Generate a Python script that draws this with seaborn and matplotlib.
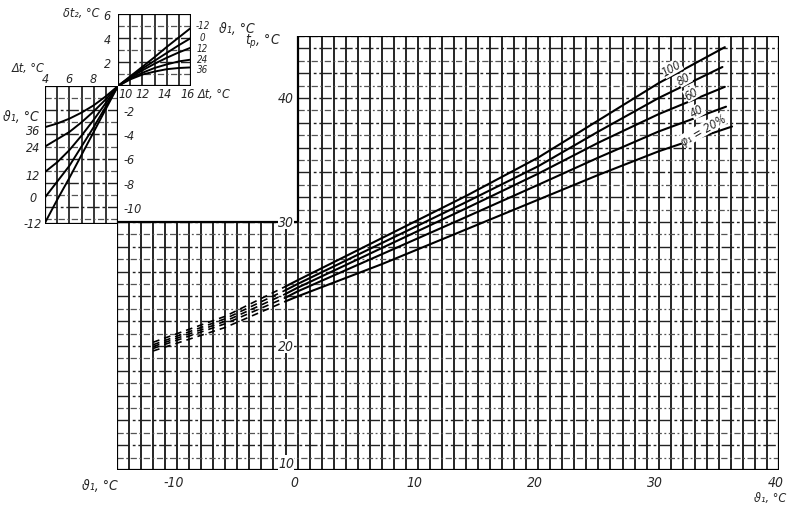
import matplotlib
matplotlib.use("Agg")
import matplotlib.pyplot as plt
import pandas as pd
import seaborn as sns

# ---------------------------------------------------------------------------
# Main chart: t_p against theta_1 for several relative humidities phi_1
# ---------------------------------------------------------------------------
PHI_LEVELS = [100, 80, 60, 40, 20]

THETA_SOLID_100 = [-1, 0, 7, 14, 20, 25, 30, 35.5]
TP_SOLID_100 = [24.8, 25.3, 28.7, 32.1, 35.2, 38.2, 41.2, 44.1]
THETA_SOLID_80 = [-1, 0, 7, 14, 20, 25, 30, 35.3]
TP_SOLID_80 = [24.5, 25.0, 28.3, 31.6, 34.5, 37.3, 40.0, 42.5]
THETA_SOLID_60 = [-1, 0, 7, 14, 20, 25, 30, 35.5]
TP_SOLID_60 = [24.2, 24.7, 27.9, 31.1, 33.9, 36.4, 38.7, 40.9]
THETA_SOLID_40 = [-1, 0, 7, 14, 20, 25, 30, 35.6]
TP_SOLID_40 = [23.9, 24.4, 27.4, 30.4, 33.0, 35.2, 37.3, 39.3]
THETA_SOLID_20 = [-1, 0, 7, 14, 20, 25, 30, 36.1]
TP_SOLID_20 = [23.6, 24.0, 26.6, 29.4, 31.8, 33.8, 35.7, 37.7]

# extrapolated (dashed) part below 0 degC
THETA_DASH = [-12, -6, -1]
TP_DASH_100 = [20.3, 22.4, 24.8]
TP_DASH_80 = [20.1, 22.2, 24.5]
TP_DASH_60 = [19.95, 22.0, 24.2]
TP_DASH_40 = [19.8, 21.8, 23.9]
TP_DASH_20 = [19.6, 21.5, 23.6]

MAIN_XTICKS = [-10, 0, 10, 20, 30, 40]
MAIN_YTICKS = [10, 20, 30, 40]

# ---------------------------------------------------------------------------
# Upper-right inset: delta t2 against delta t (10..16) for theta_1 levels
# ---------------------------------------------------------------------------
THETA1_LEVELS = [-12, 0, 12, 24, 36]
DT_UR = [10, 11, 12, 13, 14, 15, 16]
DT2_UR_M12 = [0, 0.8, 1.6, 2.4, 3.25, 4.05, 4.85]
DT2_UR_0 = [0, 0.75, 1.45, 2.1, 2.75, 3.4, 4.0]
DT2_UR_12 = [0, 0.7, 1.3, 1.85, 2.35, 2.8, 3.2]
DT2_UR_24 = [0, 0.6, 1.1, 1.5, 1.8, 2.05, 2.2]
DT2_UR_36 = [0, 0.55, 0.95, 1.2, 1.4, 1.5, 1.55]

# ---------------------------------------------------------------------------
# Lower-left inset: delta t2 against delta t (4..10) for theta_1 levels
# ---------------------------------------------------------------------------
DT_LL = [4, 5, 6, 7, 8, 9, 10]
DT2_LL_M12 = [-11.3, -9.4, -7.6, -5.7, -3.8, -1.9, 0]
DT2_LL_0 = [-9.2, -7.9, -6.6, -5.0, -3.4, -1.7, 0]
DT2_LL_12 = [-7.1, -6.3, -5.3, -4.1, -2.8, -1.4, 0]
DT2_LL_24 = [-5.0, -4.4, -3.8, -3.0, -2.1, -1.1, 0]
DT2_LL_36 = [-3.4, -3.1, -2.7, -2.2, -1.6, -0.85, 0]


def _long(xs_list, ys_list, keys):
    rows = []
    for key, xs, ys in zip(keys, xs_list, ys_list):
        for x, y in zip(xs, ys):
            rows.append({"x": x, "y": y, "curve": key})
    return pd.DataFrame(rows)


sns.set_theme(style="white")
plt.rcParams["font.family"] = ["DejaVu Sans"]
plt.rcParams["font.stretch"] = "condensed"
plt.rcParams["font.style"] = "italic"
plt.rcParams["mathtext.default"] = "it"

W, H = 791, 506
fig = plt.figure(figsize=(W / 100, H / 100), dpi=100)
fig.patch.set_facecolor("white")


def px_axes(x0, y0, x1, y1):
    """Axes placed by pixel box (top-left origin)."""
    ax = fig.add_axes([x0 / W, (H - y1) / H, (x1 - x0) / W, (y1 - y0) / H])
    ax.set_axis_off()
    return ax


def hline_style(v):
    if v % 2 == 0:
        return dict(color="#222222", lw=1.0, ls=(0, (9, 2, 2, 2)))
    return dict(color="#555555", lw=0.9, ls=(0, (5, 2, 1.5, 2)))


FS = 10

# ---------------------------------------------------------------------------
# Main chart (L-shaped grid)
# ---------------------------------------------------------------------------
ax = px_axes(117, 37, 779, 471)
ax.set_xlim(-15, 40)
ax.set_ylim(10, 45)

for v in range(-15, 41):
    top = 45 if v >= 0 else 30
    ax.vlines(v, 10, top, color="black", lw=1.2, zorder=1)
for h in range(10, 46):
    left = -15 if h <= 30 else 0
    ax.hlines(h, left, 40, zorder=1, **hline_style(h))

# outline
outline = dict(color="black", lw=1.6, zorder=2)
ax.vlines(-15, 10, 30, **outline)
ax.hlines(30, -15, 0, **outline)
ax.vlines(0, 30, 45, **outline)
ax.hlines(45, 0, 40, **outline)
ax.vlines(40, 10, 45, **outline)
ax.hlines(10, -15, 40, **outline)

solid = _long(
    [THETA_SOLID_100, THETA_SOLID_80, THETA_SOLID_60, THETA_SOLID_40, THETA_SOLID_20],
    [TP_SOLID_100, TP_SOLID_80, TP_SOLID_60, TP_SOLID_40, TP_SOLID_20],
    PHI_LEVELS,
)
sns.lineplot(data=solid, x="x", y="y", units="curve", estimator=None, sort=False,
             color="black", lw=1.5, ax=ax, zorder=3)

for tp in [TP_DASH_100, TP_DASH_80, TP_DASH_60, TP_DASH_40, TP_DASH_20]:
    sns.lineplot(x=THETA_DASH, y=tp, sort=False, color="black", lw=1.2,
                 linestyle=(0, (4, 3)), ax=ax, zorder=3)

for t in MAIN_XTICKS:
    ax.text(t - 0.3, 9.0, str(t), ha="center", va="center", fontsize=FS, clip_on=False)
for t in MAIN_YTICKS:
    y = t + 0.6 if t == 10 else t
    ax.text(-0.3, y, str(t), ha="right", va="center", fontsize=FS, clip_on=False,
            bbox=dict(facecolor="white", edgecolor="none", pad=0.3))
ax.text(-16.4, 8.8, "ϑ₁, °C", ha="center", va="center", fontsize=FS, clip_on=False)
ax.text(40.6, 7.75, "ϑ₁, °C", ha="right", va="center", fontsize=FS - 1, clip_on=False)
ax.text(-2.9, 44.6, r"$t_p$, °C", ha="center", va="center", fontsize=FS, clip_on=False)

# curve labels, each just above its own line
label_pos = [(31.1, 42.4, "100"), (32.1, 41.55, "80"), (32.7, 40.35, "60"),
             (33.2, 38.95, "40"), (33.7, 37.45, "φ₁ = 20%")]
for x, y, s in label_pos:
    ax.text(x, y, s, ha="center", va="center", rotation=30, fontsize=FS - 1.5,
            bbox=dict(facecolor="white", edgecolor="none", pad=0.1), zorder=4)

# ---------------------------------------------------------------------------
# Upper-right inset
# ---------------------------------------------------------------------------
axu = px_axes(118, 15, 191, 87)
axu.set_xlim(10, 16)
axu.set_ylim(0, 6)
for v in range(10, 17):
    axu.vlines(v, 0, 6, color="black", lw=1.1, zorder=1)
for h in range(1, 6):
    axu.hlines(h, 10, 16, zorder=1, **hline_style(h))
axu.vlines([10, 16], 0, 6, color="black", lw=1.6)
axu.hlines([0, 6], 10, 16, color="black", lw=1.6)

ur = _long([DT_UR] * 5, [DT2_UR_M12, DT2_UR_0, DT2_UR_12, DT2_UR_24, DT2_UR_36],
           THETA1_LEVELS)
sns.lineplot(data=ur, x="x", y="y", units="curve", estimator=None, sort=False,
             color="black", lw=1.4, ax=axu, zorder=3)

for v, s in [(10.6, "10"), (12.0, "12"), (13.8, "14"), (15.7, "16")]:
    axu.text(v, -0.65, s, ha="center", va="center", fontsize=FS - 1, clip_on=False)
for v in [6, 4, 2]:
    axu.text(9.1, v - 0.1, str(v), ha="center", va="center", fontsize=FS - 1, clip_on=False)
axu.text(7.0, 6.15, "δt₂, °C", ha="center", va="center", fontsize=FS - 1, clip_on=False)
axu.text(17.9, -0.65, "Δt, °C", ha="center", va="center", fontsize=FS - 1, clip_on=False)
for y, lvl in zip([5.05, 4.1, 3.15, 2.25, 1.4], THETA1_LEVELS):
    axu.text(16.95, y, str(lvl), ha="center", va="center", fontsize=FS - 3, clip_on=False)
axu.text(19.8, 4.85, "ϑ₁, °C", ha="center", va="center", fontsize=FS, clip_on=False)

# ---------------------------------------------------------------------------
# Lower-left inset
# ---------------------------------------------------------------------------
axl = px_axes(45, 87, 118, 225)
axl.set_xlim(4, 10)
axl.set_ylim(-11.4, 0)
for v in range(4, 11):
    axl.vlines(v, -11.4, 0, color="black", lw=1.1, zorder=1)
for h in range(-11, 0):
    axl.hlines(h, 4, 10, zorder=1, **hline_style(h))
axl.vlines([4, 10], -11.4, 0, color="black", lw=1.6)
axl.hlines([-11.4, 0], 4, 10, color="black", lw=1.6)

ll = _long([DT_LL] * 5, [DT2_LL_M12, DT2_LL_0, DT2_LL_12, DT2_LL_24, DT2_LL_36],
           THETA1_LEVELS)
sns.lineplot(data=ll, x="x", y="y", units="curve", estimator=None, sort=False,
             color="black", lw=1.4, ax=axl, zorder=3)

for v in [4, 6, 8]:
    axl.text(v, 0.6, str(v), ha="center", va="center", fontsize=FS - 1, clip_on=False)
axl.text(2.6, 1.55, "Δt, °C", ha="center", va="center", fontsize=FS - 1, clip_on=False)
for v in [-2, -4, -6, -8, -10]:
    axl.text(10.45, v - 0.1, str(v), ha="left", va="center", fontsize=FS - 1, clip_on=False)
axl.text(2.0, -2.45, "ϑ₁, °C", ha="center", va="center", fontsize=FS, clip_on=False)
for y, lvl in zip([-3.7, -5.1, -7.4, -9.2, -11.4], [36, 24, 12, 0, -12]):
    axl.text(3.0, y, str(lvl), ha="center", va="center", fontsize=FS - 1, clip_on=False)

fig.savefig("out.png", dpi=100, facecolor="white")
